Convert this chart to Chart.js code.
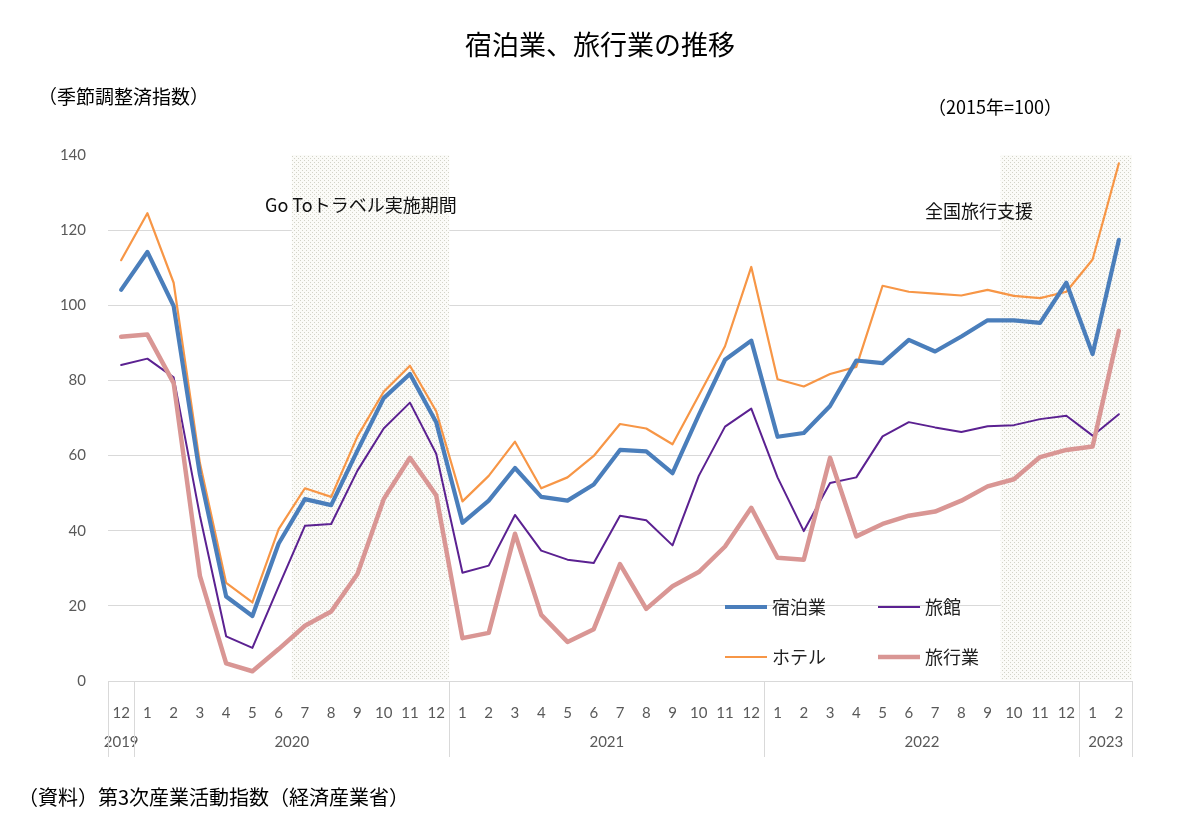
<!DOCTYPE html>
<html><head><meta charset="utf-8">
<script src="https://cdn.jsdelivr.net/npm/chart.js@4.4.1/dist/chart.umd.min.js"></script>
<style>html,body{margin:0;padding:0;background:#fff}#wrap{width:1200px;height:840px;position:relative}</style>
</head><body><div id="wrap"><canvas id="c" width="1200" height="840"></canvas></div>
<script>
// ---- data ----
const months = ['12','1','2','3','4','5','6','7','8','9','10','11','12',
                '1','2','3','4','5','6','7','8','9','10','11','12',
                '1','2','3','4','5','6','7','8','9','10','11','12',
                '1','2'];
const yearLabels = ['2019','2020','2021','2022','2023'];
const yearCounts = [1,12,12,12,2];
const shukuhaku = [104.1,114.2,99.8,55,22.5,17.3,36.6,48.4,46.8,61.3,75.3,81.7,68.9,
                   42.1,48,56.7,49,48,52.3,61.5,61.1,55.3,70.8,85.5,90.6,
                   65,66,73.2,85.3,84.6,90.8,87.7,91.7,96,96,95.3,106,
                   87,117.4];
const ryokan = [84.1,85.8,80.8,44,11.9,8.8,25.2,41.3,41.8,56,67.2,74.1,60.5,
                28.8,30.7,44.2,34.7,32.3,31.4,44,42.8,36.1,54.6,67.7,72.5,
                54.2,39.9,52.7,54.2,65.1,68.9,67.5,66.3,67.8,68.1,69.7,70.6,
                65.3,71];
const hotel = [112,124.5,106,58,26.1,20.9,40.4,51.3,49,65.1,77,83.9,71.8,
               47.8,54.6,63.7,51.3,54.2,59.9,68.4,67.2,63,76,89.1,110.2,
               80.3,78.4,81.7,83.6,105.2,103.6,103.1,102.6,104.1,102.5,101.9,103.6,
               112.2,137.8];
const ryokogyo = [91.6,92.2,79.3,28,4.7,2.6,8.5,14.7,18.5,28.5,48.4,59.4,49.4,
                  11.4,12.8,39.2,17.6,10.4,13.8,31.1,19.2,25.2,29,35.8,46.1,
                  32.8,32.3,59.4,38.5,41.8,44,45.1,48,51.8,53.7,59.6,61.5,
                  62.4,93.2];
const yMin = 0, yMax = 140, yStep = 20;
const goToStart = 7, goToEnd = 12;      // 2020/7 - 2020/12
const zenkokuStart = 34, zenkokuEnd = 38; // 2022/10 - 2023/2

const JP = '"Noto Sans CJK JP", "Noto Sans", sans-serif';
const NUM = 'Lato, "Open Sans", sans-serif';

function makePattern(ctx){
  const p = document.createElement('canvas'); p.width = 4; p.height = 4;
  const g = p.getContext('2d');
  g.fillStyle = '#fbfbf8'; g.fillRect(0,0,4,4);
  g.fillStyle = '#d3d3c8'; g.fillRect(0,0,1,1); g.fillRect(2,2,1,1);
  return ctx.createPattern(p,'repeat');
}

const decor = {
  id:'decor',
  beforeDatasetsDraw(chart){
    const {ctx, chartArea, scales:{x,y}} = chart;
    const pat = makePattern(ctx);
    const mid = (a,b)=> (x.getPixelForValue(a)+x.getPixelForValue(b))/2;
    const top = y.getPixelForValue(yMax), bot = y.getPixelForValue(yMin) - 1;
    ctx.save();
    ctx.fillStyle = pat;
    let x0 = mid(goToStart-1, goToStart), x1 = mid(goToEnd, goToEnd+1);
    ctx.fillRect(x0, top, x1-x0, bot-top);
    x0 = mid(zenkokuStart-1, zenkokuStart); x1 = chartArea.right;
    ctx.fillRect(x0, top, x1-x0, bot-top);
    ctx.restore();
  },
  afterDraw(chart){
    const {ctx, chartArea, scales:{x,y}} = chart;
    ctx.save();
    ctx.fillStyle = '#000';
    ctx.textBaseline = 'middle';
    ctx.textAlign = 'center';
    ctx.font = `27px ${JP}`;
    ctx.fillText('宿泊業、旅行業の推移', 600, 45);
    ctx.textAlign = 'left';
    ctx.font = `19px ${JP}`;
    ctx.fillText('（季節調整済指数）', 38, 97);
    ctx.font = `18px ${JP}`;
    ctx.fillText('（2015年=100）', 928, 107);
    ctx.font = `18px ${JP}`;
    ctx.fillStyle = '#111';
    ctx.fillText('Go Toトラベル実施期間', 265, 205);
    ctx.fillText('全国旅行支援', 925, 211);
    ctx.fillStyle = '#000';
    ctx.font = `20px ${JP}`;
    ctx.fillText('（資料）第3次産業活動指数（経済産業省）', 18, 797);

    // legend
    const ds = chart.data.datasets;
    const legendPos = [[725,607],[878,607],[725,657],[878,657]];
    const legendOrder = [0,1,2,3];
    ctx.font = `18px ${JP}`;
    ctx.fillStyle = '#222';
    legendOrder.forEach((di,k)=>{
      const [lx,ly] = legendPos[k];
      ctx.strokeStyle = ds[di].borderColor;
      ctx.lineWidth = ds[di].borderWidth;
      ctx.beginPath(); ctx.moveTo(lx, ly); ctx.lineTo(lx+42, ly); ctx.stroke();
      ctx.fillText(ds[di].label, lx+47, ly);
    });

    // year row and separators
    const bottom = y.getPixelForValue(yMin);
    ctx.strokeStyle = '#d9d9d9'; ctx.lineWidth = 1;
    ctx.font = `15px ${NUM}`; ctx.fillStyle = '#595959'; ctx.textAlign = 'center';
    let idx = 0;
    const bounds = [chartArea.left];
    yearLabels.forEach((lab,i)=>{
      const s = idx, e = idx + yearCounts[i] - 1;
      const left = s===0 ? chartArea.left : (x.getPixelForValue(s-1)+x.getPixelForValue(s))/2;
      const right = e===months.length-1 ? chartArea.right : (x.getPixelForValue(e)+x.getPixelForValue(e+1))/2;
      ctx.fillText(lab, (left+right)/2, 742);
      bounds.push(right);
      idx += yearCounts[i];
    });
    bounds.forEach(bx=>{
      const px = Math.round(bx)+0.5;
      ctx.beginPath(); ctx.moveTo(px, bottom); ctx.lineTo(px, 757); ctx.stroke();
    });
    ctx.restore();
  }
};

new Chart(document.getElementById('c'), {
  type:'line',
  data:{labels: months, datasets:[
    {label:'宿泊業', data: shukuhaku, borderColor:'#4A7EBB', borderWidth:4.2, order:0},
    {label:'旅館', data: ryokan, borderColor:'#5B2191', borderWidth:2, order:2},
    {label:'ホテル', data: hotel, borderColor:'#F79646', borderWidth:2.2, order:3},
    {label:'旅行業', data: ryokogyo, borderColor:'#D99694', borderWidth:4.5, order:1}
  ]},
  options:{
    responsive:false, animation:false, devicePixelRatio:1,
    layout:{padding:{left:48,right:68,top:155,bottom:0}},
    elements:{point:{radius:0}, line:{tension:0, borderCapStyle:'round', borderJoinStyle:'round'}},
    plugins:{legend:{display:false}, tooltip:{enabled:false}},
    scales:{
      x:{offset:true, grid:{display:false}, border:{display:true,color:'#d9d9d9'},
         ticks:{color:'#595959', font:{family:NUM, size:15}, padding:15, maxRotation:0, autoSkip:false},
         afterFit: s=>{s.height = 159;}},
      y:{min:yMin, max:yMax,
         ticks:{stepSize:yStep, color:'#595959', font:{family:NUM, size:15}, padding:22},
         grid:{color: c => c.tick && c.tick.value===yMax ? 'rgba(0,0,0,0)' : '#d9d9d9', drawTicks:false},
         border:{display:false},
         afterFit: s=>{s.width = 60;}}
    }
  },
  plugins:[decor]
});
</script></body></html>
